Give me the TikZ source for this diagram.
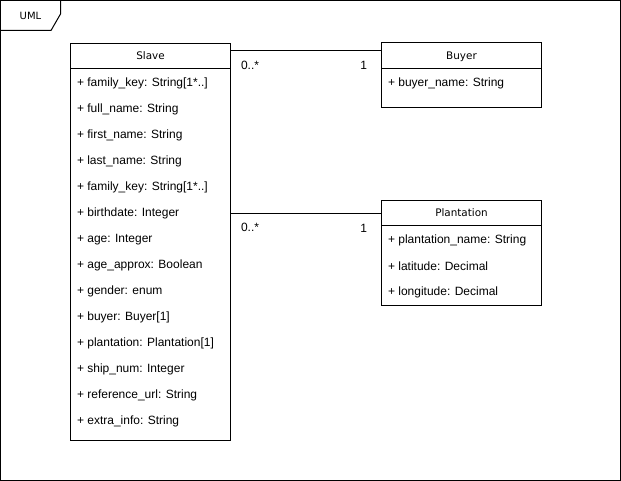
\documentclass[tikz,border=0pt]{standalone}
\usepackage{fontspec}
\setmainfont{Liberation Sans}
\newfontfamily\headfont{DejaVu Sans}
\usetikzlibrary{positioning, calc}

\begin{document}
\begin{tikzpicture}[
        x=0.75pt, y=-0.75pt,
        line width=0.75pt,
        classhead/.style={rectangle, draw, outer sep=0pt, minimum width=120pt, minimum height=19.5pt, inner sep=0pt, text depth=0pt, anchor=north west, font=\headfont\fontsize{7.8}{9}\selectfont},
        classbody/.style={rectangle, draw, outer sep=0pt, minimum width=120pt, inner sep=0pt},
        attr/.style={anchor=west, inner sep=0pt, font=\fontsize{9}{11}\selectfont},
        mult/.style={inner sep=0pt, font=\fontsize{9}{11}\selectfont}
    ]
        \useasboundingbox (0,0) rectangle (621,481);

        % frame with its tab
        \draw (0.5,0.5) rectangle (620.5,480.5);
        \draw (0.5,30.5) -- (51,30.5) -- (60.5,14) -- (60.5,0.5);
        \node[inner sep=0pt, font=\headfont\fontsize{7.5}{9}\selectfont] (frametitle) at (30.5,16) {UML};

        % classes
        \node[classhead, minimum height=18.75pt] (slave) at (70.5,43.5) {Slave};
        \node[classbody, minimum height=279pt, below=0pt of slave] (slavebody) {};

        \node[classhead] (buyer) at (381.5,42.5) {Buyer};
        \node[classbody, minimum height=29.25pt, below=0pt of buyer] (buyerbody) {};

        \node[classhead, minimum height=18.75pt] (plantation) at (381.5,200.5) {Plantation};
        \node[classbody, minimum height=60pt, below=0pt of plantation] (plantationbody) {};

        % attributes
        \foreach \a [count=\i] in {{+ family\_key: String[1*..]}, {+ full\_name: String}, {+ first\_name: String},
                {+ last\_name: String}, {+ family\_key: String[1*..]}, {+ birthdate: Integer}, {+ age: Integer},
                {+ age\_approx: Boolean}, {+ gender: enum}, {+ buyer: Buyer[1]}, {+ plantation: Plantation[1]},
                {+ ship\_num: Integer}, {+ reference\_url: String}, {+ extra\_info: String}}
            \node[attr] (slaveattr\i) at ($(slavebody.north west)+(6,15+26*\i-26)$) {\a};

        \node[attr] (buyerattr1) at ($(buyerbody.north west)+(6,14.5)$) {+ buyer\_name: String};

        \foreach \a [count=\i] in {{+ plantation\_name: String}, {+ latitude: Decimal}, {+ longitude: Decimal}}
            \node[attr] (plantationattr\i) at ($(plantationbody.north west)+(6,14.5+26*\i-26)$) {\a};

        % associations
        \draw (slave.east |- 0,50.5) -- node[mult, pos=0, anchor=north west, xshift=7.5pt, yshift=-7.5pt] (slavemult1) {0..*}
            node[mult, pos=1, anchor=north east, xshift=-10.5pt, yshift=-7.5pt] (buyermult) {1} (buyer.west |- 0,50.5);
        \draw (slavebody.east |- 0,213.5) -- node[mult, pos=0, anchor=north west, xshift=7.5pt, yshift=-6.5pt] (slavemult2) {0..*}
            node[mult, pos=1, anchor=north east, xshift=-10.5pt, yshift=-8pt] (plantationmult) {1} (plantation.west |- 0,213.5);

    \end{tikzpicture}
\end{document}
